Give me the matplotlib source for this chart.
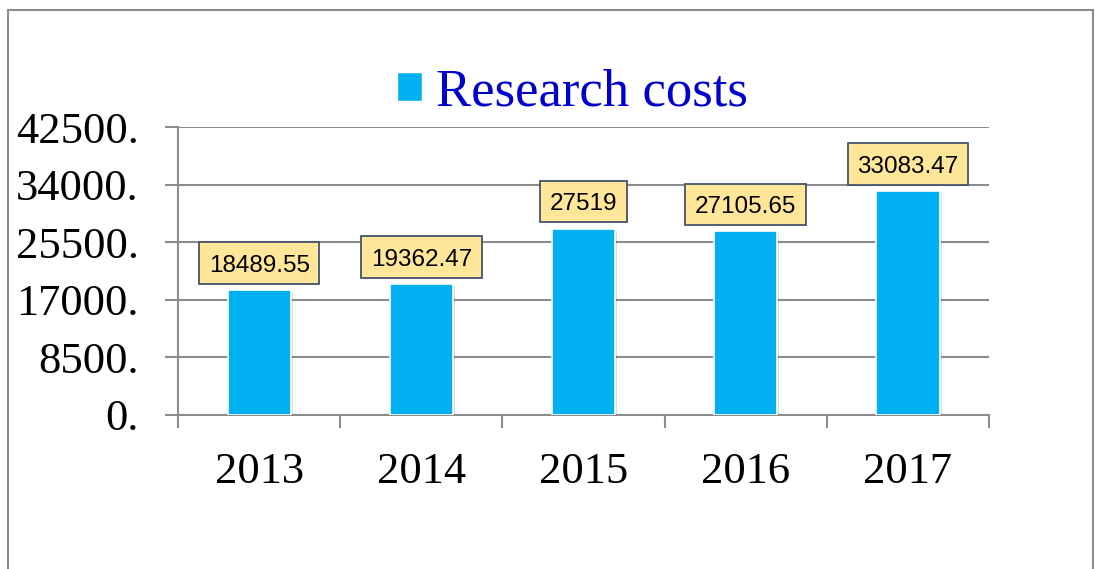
import numpy as np
import matplotlib
matplotlib.use("Agg")
import matplotlib.pyplot as plt
from matplotlib.patches import Patch, Rectangle
from matplotlib.transforms import IdentityTransform
from matplotlib.ticker import FuncFormatter, MultipleLocator
import matplotlib.patheffects as pe

years = ["2013", "2014", "2015", "2016", "2017"]
costs = [18489.55, 19362.47, 27519, 27105.65, 33083.47]
cost_labels = ["18489.55", "19362.47", "27519", "27105.65", "33083.47"]

bar_color = "#00B0F0"
grid_color = "#8C8C8C"
DPI = 100


def main():
    fig = plt.figure(figsize=(10.99, 5.69), dpi=DPI)
    ax = fig.add_axes([0.162, 0.2707, 0.738, 0.5061])

    x = np.arange(len(years))
    bars = ax.bar(x, costs, width=0.39, color=bar_color, edgecolor="white",
                  linewidth=1.2, zorder=3)
    for b in bars:
        b.set_path_effects([pe.SimplePatchShadow(offset=(1.5, -1.5), alpha=0.15),
                            pe.Normal()])

    ax.set_xlim(-0.5, len(years) - 0.5)
    ax.set_ylim(0, 42500)
    ax.yaxis.set_major_locator(MultipleLocator(8500))
    ax.yaxis.set_major_formatter(FuncFormatter(lambda v, p: "%d." % v))
    ax.grid(axis="y", color=grid_color, lw=1.5, zorder=0)

    ax.set_xticks(x)
    ax.set_xticklabels(years)
    ax.set_xticks(np.arange(len(years) + 1) - 0.5, minor=True)
    ax.tick_params(axis="x", which="major", length=0, pad=27)
    ax.tick_params(axis="x", which="minor", length=9.5, width=1.5,
                   color=grid_color, direction="out")
    ax.tick_params(axis="y", length=9.5, width=1.5, color=grid_color, pad=19)
    for lab in ax.get_xticklabels() + ax.get_yticklabels():
        lab.set_family("Liberation Serif")
        lab.set_fontsize(32)

    for s in ["top", "right"]:
        ax.spines[s].set_visible(False)
    for s in ["left", "bottom"]:
        ax.spines[s].set_color(grid_color)
        ax.spines[s].set_linewidth(1.5)

    # value labels, baseline a little above each bar
    fs = 17.5
    em = fs * DPI / 72
    base_off = 13  # points
    texts = []
    for xi, v, lab in zip(x, costs, cost_labels):
        t = ax.annotate(lab, (xi, v), xytext=(0, base_off),
                        textcoords="offset points", ha="center",
                        va="baseline", fontsize=fs,
                        family="Liberation Sans", zorder=6)
        texts.append((t, xi, v))

    # yellow boxes sized from the rendered text, centred on the digits
    fig.canvas.draw()
    for t, xi, v in texts:
        bb = t.get_window_extent()
        base_y = ax.transData.transform((xi, v))[1] + base_off * DPI / 72
        cy = base_y + 0.358 * em
        w = bb.width + 0.8 * em
        h = 1.7 * em
        box = Rectangle((bb.x0 - 0.4 * em, cy - h / 2), w, h,
                        transform=IdentityTransform(), fc="#FFE699",
                        ec="#44546A", lw=1.3, zorder=5, clip_on=False)
        ax.add_patch(box)

    handle = Patch(facecolor=bar_color, edgecolor="white")
    fig.legend(handles=[handle], labels=["Research costs"],
               loc="center", bbox_to_anchor=(0.521, 0.838),
               frameon=False, handlelength=0.47, handleheight=0.47,
               handletextpad=0.28,
               prop=dict(family="Liberation Serif", size=38),
               labelcolor="#0000CC")

    fig.patches.append(Rectangle((0.0073, -0.2), 0.9872, 1.1824,
                                 transform=fig.transFigure, fill=False,
                                 ec=grid_color, lw=1.5, clip_on=False))

    fig.savefig("out.png", dpi=DPI)


if __name__ == "__main__":
    main()
